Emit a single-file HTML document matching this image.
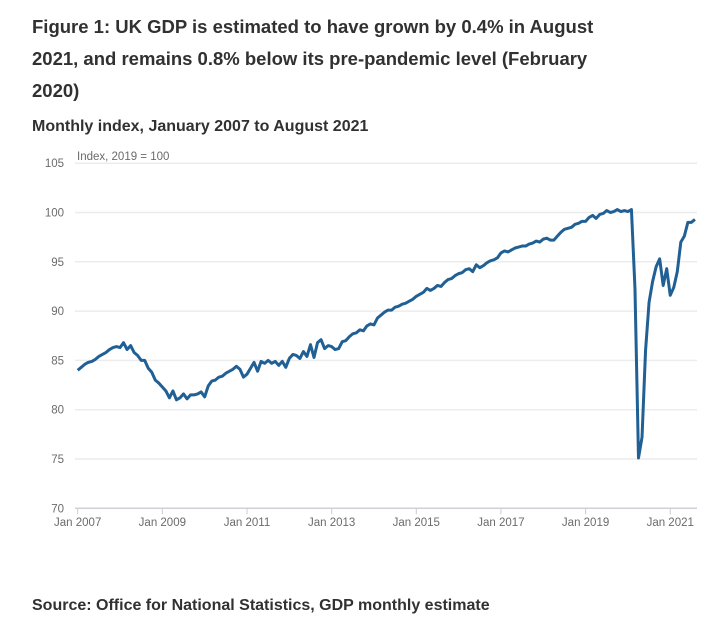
<!DOCTYPE html>
<html><head><meta charset="utf-8"><style>
body{margin:0;background:#fff;width:728px;height:623px;overflow:hidden;font-family:"Liberation Sans",sans-serif;color:#222}
.t{position:absolute;left:32px;top:11px;width:600px;font-size:18.5px;font-weight:bold;line-height:32px;color:#323132}
.s{position:absolute;left:32px;top:118px;font-size:16px;font-weight:bold;color:#323132}
.src{position:absolute;left:32px;top:597px;font-size:16px;font-weight:bold;color:#323132}
svg{position:absolute;left:0;top:0}
</style></head><body>
<div class="t">Figure 1: UK GDP is estimated to have grown by 0.4% in August 2021, and remains 0.8% below its pre-pandemic level (February 2020)</div>
<div class="s">Monthly index, January 2007 to August 2021</div>
<div class="src">Source: Office for National Statistics, GDP monthly estimate</div>
<svg id="c" width="728" height="623"></svg>
<script>
const yTicks=[70,75,80,85,90,95,100,105];
const xTickLabels=["Jan 2007","Jan 2009","Jan 2011","Jan 2013","Jan 2015","Jan 2017","Jan 2019","Jan 2021"];
const gdp2007=[84.0,84.3,84.6,84.8,84.9,85.1,85.4,85.6,85.8,86.1,86.3,86.4];
const gdp2008=[86.3,86.8,86.1,86.5,85.8,85.5,85.0,85.0,84.2,83.8,83.0,82.7];
const gdp2009=[82.3,81.9,81.2,81.9,81.0,81.2,81.6,81.1,81.5,81.5,81.6,81.8];
const gdp2010=[81.3,82.4,82.9,83.0,83.3,83.4,83.7,83.9,84.1,84.4,84.1,83.3];
const gdp2011=[83.6,84.2,84.8,83.9,84.9,84.7,85.0,84.7,84.9,84.5,84.9,84.3];
const gdp2012=[85.2,85.6,85.5,85.2,85.9,85.4,86.6,85.3,86.8,87.1,86.2,86.5];
const gdp2013=[86.4,86.1,86.2,86.9,87.0,87.4,87.7,87.8,88.1,88.0,88.5,88.7];
const gdp2014=[88.6,89.3,89.6,89.9,90.1,90.1,90.4,90.5,90.7,90.8,91.0,91.2];
const gdp2015=[91.5,91.7,91.9,92.3,92.1,92.3,92.6,92.5,92.9,93.2,93.3,93.6];
const gdp2016=[93.8,93.9,94.2,94.3,94.0,94.7,94.4,94.6,94.9,95.1,95.2,95.4];
const gdp2017=[95.9,96.1,96.0,96.2,96.4,96.5,96.6,96.6,96.8,96.9,97.1,97.0];
const gdp2018=[97.3,97.4,97.2,97.2,97.6,98.0,98.3,98.4,98.5,98.8,98.9,99.1];
const gdp2019=[99.1,99.5,99.7,99.4,99.8,99.9,100.2,100.0,100.1,100.3,100.1,100.2];
const gdp2020=[100.1,100.3,92.3,75.1,77.2,86.0,90.9,93.0,94.5,95.3,92.6,94.3];
const gdp2021=[91.6,92.4,94.0,97.0,97.6,99.0,99.0,99.3];
const values=[].concat(gdp2007,gdp2008,gdp2009,gdp2010,gdp2011,gdp2012,gdp2013,gdp2014,gdp2015,gdp2016,gdp2017,gdp2018,gdp2019,gdp2020,gdp2021);

const NS="http://www.w3.org/2000/svg",svg=document.getElementById('c');
const x0=77.7,pm=3.527,yBase=508.3,pu=9.86;
const X=i=>x0+i*pm, Y=v=>yBase-(v-70)*pu;
function mk(t,a){const e=document.createElementNS(NS,t);for(const k in a)e.setAttribute(k,a[k]);svg.appendChild(e);return e;}
yTicks.forEach(v=>{
  const g=mk('line',{x1:75,x2:697,y1:Y(v),y2:Y(v),stroke:v===70?'#d0d0d8':'#ececec','stroke-width':v===70?1.5:1.5});
  
  
  const t=mk('text',{x:64,y:Y(v)+4,'text-anchor':'end','font-size':'11.5','fill':'#6b6b6b','font-family':'Liberation Sans, sans-serif'});
  t.textContent=v;
  
  
});
xTickLabels.forEach((s,k)=>{
  const x=X(k*24);
  const l=mk('line',{x1:x,x2:x,y1:yBase,y2:yBase+6,stroke:'#ccc'});
  
  
  const t=mk('text',{x:x,y:526,'text-anchor':'middle','font-size':'11.5','fill':'#6b6b6b','font-family':'Liberation Sans, sans-serif'});
  t.textContent=s;
  
  
});
const yt=mk('text',{x:77,y:160,'font-size':'11.5','fill':'#6b6b6b','font-family':'Liberation Sans, sans-serif'});
yt.textContent='Index, 2019 = 100';


const p=mk('path',{d:values.map((v,i)=>(i?'L':'M')+X(i).toFixed(2)+','+Y(v).toFixed(2)).join(''),fill:'none',stroke:'#206095','stroke-width':3,'stroke-linejoin':'round'});


</script>
</body></html>
